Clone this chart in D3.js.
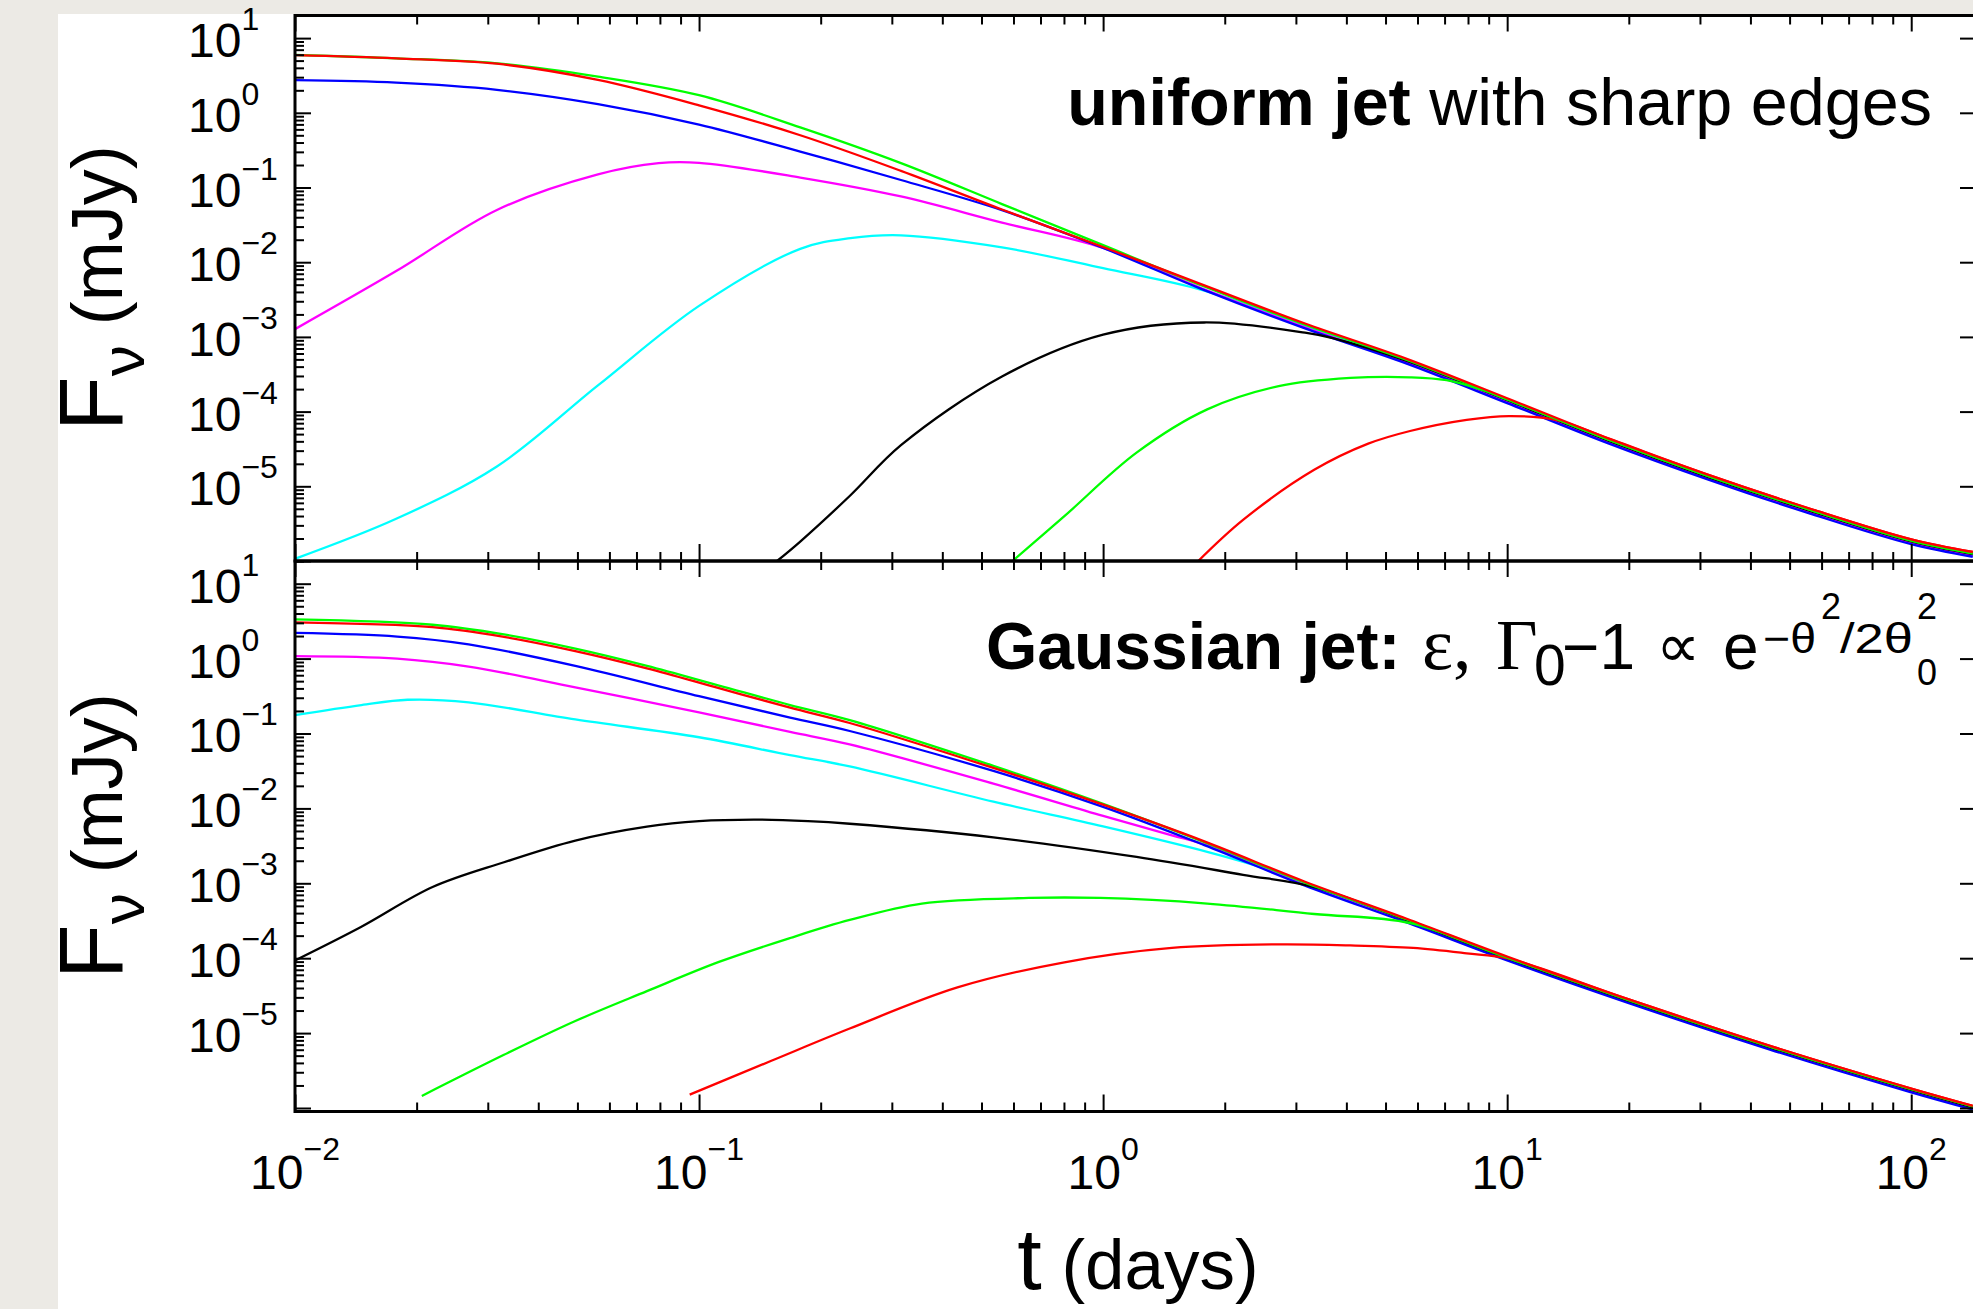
<!DOCTYPE html>
<html>
<head>
<meta charset="utf-8">
<script src="https://cdn.jsdelivr.net/npm/d3@7"></script>
<style>
  html, body { margin: 0; padding: 0; background: #eceae5; }
  svg { display: block; }
</style>
</head>
<body>
<script>
var W = 1973, H = 1309;

// tick labels (decades)
var xMajor = [0.01, 0.1, 1, 10, 100];
var xExp = ["\u22122", "\u22121", "0", "1", "2"];
var yMajor = [10, 1, 0.1, 0.01, 1e-3, 1e-4, 1e-5];
var yExp = ["1", "0", "\u22121", "\u22122", "\u22123", "\u22124", "\u22125"];

// upper panel: uniform jet with sharp edges, [t (days), F (mJy)]
var uRed1 = [[0.01,5.90],[0.0178,5.35],[0.0316,4.54],[0.0562,2.76],[0.1,1.26],[0.178,0.501],[0.316,0.167],[0.562,0.0507],[1,0.0160],[1.78,4.90e-3],[3.16,1.51e-3],[5.62,5.13e-4],[10,1.51e-4],[17.8,4.37e-5],[31.6,1.41e-5],[56.2,5.01e-6],[100,1.95e-6],[142,1.32e-6]];
var uGreen1 = [[0.01,5.96],[0.0178,5.37],[0.0316,4.59],[0.0562,3.05],[0.1,1.72],[0.178,0.638],[0.316,0.212],[0.562,0.060],[1,0.0169],[1.78,4.73e-3],[3.16,1.46e-3],[5.62,4.95e-4],[10,1.46e-4],[17.8,4.22e-5],[31.6,1.36e-5],[56.2,4.84e-6],[100,1.88e-6],[142,1.27e-6]];
var uBlue = [[0.01,2.73],[0.0178,2.53],[0.0316,2.03],[0.0562,1.31],[0.1,0.697],[0.178,0.303],[0.316,0.126],[0.562,0.0497],[1,0.0155],[1.78,4.22e-3],[3.16,1.30e-3],[5.62,4.42e-4],[10,1.30e-4],[17.8,3.76e-5],[31.6,1.22e-5],[56.2,4.31e-6],[100,1.68e-6],[142,1.14e-6]];
var uMagenta = [[0.01,1.27e-3],[0.0178,7.6e-3],[0.0316,0.050],[0.0562,0.150],[0.0794,0.212],[0.1,0.214],[0.178,0.136],[0.316,0.0759],[0.562,0.0339],[1,0.0155],[1.78,4.35e-3],[3.16,1.34e-3],[5.62,4.55e-4],[10,1.34e-4],[17.8,3.87e-5],[31.6,1.25e-5],[56.2,4.45e-6],[100,1.73e-6],[142,1.17e-6]];
var uCyan = [[0.01,1.07e-6],[0.0178,3.67e-6],[0.0316,1.84e-5],[0.0562,2.24e-4],[0.1,2.60e-3],[0.178,0.0151],[0.237,0.0210],[0.316,0.0229],[0.562,0.0158],[1,8.32e-3],[1.78,4.17e-3],[3.16,1.38e-3],[5.62,4.68e-4],[10,1.38e-4],[17.8,3.98e-5],[31.6,1.29e-5],[56.2,4.57e-6],[100,1.78e-6],[142,1.20e-6]];
var uBlack = [[0.156,1.0e-6],[0.178,1.82e-6],[0.237,7.59e-6],[0.316,3.55e-5],[0.562,2.95e-4],[1,1.07e-3],[1.78,1.56e-3],[3.16,1.14e-3],[3.70,9.64e-4],[5.62,4.81e-4],[10,1.42e-4],[17.8,4.09e-5],[31.6,1.32e-5],[56.2,4.70e-6],[100,1.83e-6],[142,1.24e-6]];
var uGreen2 = [[0.597,1.0e-6],[0.802,3.98e-6],[1.21,2.82e-5],[1.81,1.07e-4],[2.72,2.19e-4],[4.09,2.82e-4],[5.75,2.88e-4],[7.08,2.63e-4],[8.79,1.90e-4],[10,1.46e-4],[17.8,4.22e-5],[31.6,1.36e-5],[56.2,4.84e-6],[100,1.88e-6],[142,1.27e-6]];
var uRed2 = [[1.72,1.0e-6],[2.22,3.55e-6],[3.33,1.66e-5],[4.53,3.72e-5],[5.75,5.50e-5],[7.94,7.76e-5],[10.1,8.71e-5],[13.2,7.76e-5],[17.8,4.37e-5],[31.6,1.41e-5],[56.2,5.01e-6],[100,1.95e-6],[142,1.32e-6]];

// lower panel: Gaussian jet
var gRed1 = [[0.01,3.05],[0.0219,2.63],[0.0329,1.95],[0.0494,1.26],[0.0743,0.741],[0.112,0.403],[0.168,0.221],[0.236,0.138],[0.535,0.0347],[1,0.0112],[1.78,3.63e-3],[3.16,1.05e-3],[5.62,3.39e-4],[10,1.05e-4],[20,2.82e-5],[44.7,6.76e-6],[100,1.82e-6],[142,1.07e-6]];
var gGreen1 = [[0.01,3.33],[0.0219,2.83],[0.0329,2.10],[0.0494,1.36],[0.0743,0.80],[0.112,0.437],[0.168,0.240],[0.236,0.151],[0.535,0.0370],[1,0.0115],[1.78,3.55e-3],[3.16,1.02e-3],[5.62,3.31e-4],[10,1.02e-4],[20,2.75e-5],[44.7,6.61e-6],[100,1.78e-6],[142,1.05e-6]];
var gBlue = [[0.01,2.20],[0.0179,1.97],[0.0269,1.55],[0.0494,0.80],[0.1,0.315],[0.168,0.163],[0.236,0.108],[0.535,0.0316],[1,0.0105],[1.78,3.24e-3],[3.16,9.33e-4],[5.62,3.02e-4],[10,9.33e-5],[20,2.51e-5],[44.7,6.03e-6],[100,1.62e-6],[142,9.55e-7]];
var gMagenta = [[0.01,1.08],[0.0179,1.0],[0.0269,0.783],[0.0494,0.414],[0.1,0.192],[0.168,0.105],[0.236,0.0714],[0.535,0.0214],[1,7.94e-3],[1.48,4.37e-3],[1.78,3.31e-3],[3.16,9.55e-4],[5.62,3.09e-4],[10,9.55e-5],[20,2.57e-5],[44.7,6.17e-6],[100,1.66e-6],[142,9.77e-7]];
var gCyan = [[0.01,0.176],[0.0146,0.240],[0.019,0.282],[0.0269,0.261],[0.0494,0.154],[0.1,0.0891],[0.168,0.0514],[0.236,0.0363],[0.535,0.0123],[1,5.75e-3],[1.81,2.63e-3],[2.51,1.58e-3],[3.16,9.77e-4],[5.62,3.16e-4],[10,9.77e-5],[20,2.63e-5],[44.7,6.31e-6],[100,1.70e-6],[142,1.0e-6]];
var gBlack = [[0.01,9.33e-5],[0.0146,2.63e-4],[0.0219,8.91e-4],[0.0329,1.91e-3],[0.0494,3.72e-3],[0.0743,5.71e-3],[0.1,6.76e-3],[0.137,7.08e-3],[0.186,6.76e-3],[0.236,6.24e-3],[0.535,4.11e-3],[1.21,2.25e-3],[2.22,1.30e-3],[3.33,8.91e-4],[5.62,3.24e-4],[10,1.00e-4],[20,2.69e-5],[44.7,6.46e-6],[100,1.74e-6],[142,1.02e-6]];
var gGreen2 = [[0.0206,1.45e-6],[0.0329,5.13e-6],[0.0494,1.45e-5],[0.0743,3.63e-5],[0.112,8.91e-5],[0.168,1.86e-4],[0.236,3.24e-4],[0.356,5.37e-4],[0.655,6.37e-4],[0.984,6.37e-4],[1.81,5.37e-4],[3.33,3.89e-4],[5.75,2.95e-4],[10,1.02e-4],[20,2.75e-5],[44.7,6.61e-6],[100,1.78e-6],[142,1.05e-6]];
var gRed2 = [[0.0948,1.51e-6],[0.151,4.27e-6],[0.236,1.15e-5],[0.436,4.07e-5],[0.802,8.81e-5],[1.48,1.37e-4],[2.72,1.53e-4],[4.09,1.48e-4],[5.85,1.37e-4],[7.94,1.16e-4],[10.1,9.84e-5],[20,2.82e-5],[44.7,6.76e-6],[100,1.82e-6],[142,1.07e-6]];

var RED = "#ff0000", GREEN = "#00ff00", BLUE = "#0000ff", MAG = "#ff00ff", CYAN = "#00ffff", BLK = "#000000";

var uniformSeries = [
  {c: CYAN, d: uCyan}, {c: MAG, d: uMagenta}, {c: BLUE, d: uBlue},
  {c: BLK, d: uBlack}, {c: GREEN, d: uGreen2}, {c: RED, d: uRed2},
  {c: GREEN, d: uGreen1}, {c: RED, d: uRed1}
];
var gaussSeries = [
  {c: CYAN, d: gCyan}, {c: MAG, d: gMagenta}, {c: BLUE, d: gBlue},
  {c: BLK, d: gBlack}, {c: GREEN, d: gGreen2}, {c: RED, d: gRed2},
  {c: GREEN, d: gGreen1}, {c: RED, d: gRed1}
];

var SANS = "'Liberation Sans', Arial, Helvetica, sans-serif";
var SERIF = "'Liberation Serif', 'Times New Roman', serif";

var svg = d3.select("body").append("svg")
  .attr("width", W).attr("height", H);

// white page
svg.append("rect").attr("x", 58).attr("y", 14).attr("width", W - 58).attr("height", H - 14).attr("fill", "#ffffff");

var xL = 295, xR = 1973;
var x = d3.scaleLog().domain([0.01, 142.2]).range([xL, xR]);

var panels = [
  {y: d3.scaleLog().domain([1e-6, 19.95]).range([561, 15.7]), top: 15.5, bot: 561, series: uniformSeries, id: "clipU"},
  {y: d3.scaleLog().domain([8.98e-7, 20.4]).range([1111.5, 560.5]), top: 561, bot: 1111.5, series: gaussSeries, id: "clipG"}
];

function isDecade(v) {
  var l = Math.log10(v);
  return Math.abs(l - Math.round(l)) < 1e-6;
}

function tickAxis(g) {
  g.select(".domain").remove();
  g.selectAll(".tick line").attr("stroke", "#000").attr("stroke-width", 2);
  g.selectAll(".tick text").remove();
}

panels.forEach(function(p) {
  var y = p.y;
  var allY = y.ticks().filter(function(v) { return v >= y.domain()[0] && v <= y.domain()[1]; });
  var minorY = allY.filter(function(v) { return !isDecade(v); });
  var majorY = allY.filter(isDecade);
  var allX = x.ticks();
  var minorX = allX.filter(function(v) { return !isDecade(v); });
  var majorX = allX.filter(isDecade);

  svg.append("clipPath").attr("id", p.id).append("rect")
    .attr("x", xL).attr("y", p.top).attr("width", xR - xL).attr("height", p.bot - p.top);

  var line = d3.line()
    .x(function(d) { return x(d[0]); })
    .y(function(d) { return y(d[1]); })
    .curve(d3.curveCatmullRom.alpha(0.5));

  svg.append("g").attr("clip-path", "url(#" + p.id + ")")
    .selectAll("path").data(p.series).enter().append("path")
    .attr("d", function(s) { return line(s.d); })
    .attr("fill", "none")
    .attr("stroke", function(s) { return s.c; })
    .attr("stroke-width", 2.3)
    .attr("stroke-linejoin", "round");

  // left axis ticks (inward)
  svg.append("g").attr("transform", "translate(" + xL + ",0)")
    .call(d3.axisLeft(y).tickValues(minorY).tickSizeInner(-9).tickSizeOuter(0)).call(tickAxis);
  svg.append("g").attr("transform", "translate(" + xL + ",0)")
    .call(d3.axisLeft(y).tickValues(majorY).tickSizeInner(-16).tickSizeOuter(0)).call(tickAxis);
  // right axis ticks
  svg.append("g").attr("transform", "translate(" + xR + ",0)")
    .call(d3.axisRight(y).tickValues(majorY).tickSizeInner(-13).tickSizeOuter(0)).call(tickAxis);
  // top and bottom ticks
  svg.append("g").attr("transform", "translate(0," + p.top + ")")
    .call(d3.axisTop(x).tickValues(minorX).tickSizeInner(-9).tickSizeOuter(0)).call(tickAxis);
  svg.append("g").attr("transform", "translate(0," + p.top + ")")
    .call(d3.axisTop(x).tickValues(majorX).tickSizeInner(-16).tickSizeOuter(0)).call(tickAxis);
  svg.append("g").attr("transform", "translate(0," + p.bot + ")")
    .call(d3.axisBottom(x).tickValues(minorX).tickSizeInner(-9).tickSizeOuter(0)).call(tickAxis);
  svg.append("g").attr("transform", "translate(0," + p.bot + ")")
    .call(d3.axisBottom(x).tickValues(majorX).tickSizeInner(-17).tickSizeOuter(0)).call(tickAxis);

  // frame
  svg.append("rect").attr("x", xL).attr("y", p.top).attr("width", xR - xL + 10).attr("height", p.bot - p.top)
    .attr("fill", "none").attr("stroke", "#000").attr("stroke-width", 3);

  // y tick labels 10^n
  var lab = svg.append("g").attr("font-family", SANS).attr("fill", "#000");
  yMajor.forEach(function(v, i) {
    var t = lab.append("text").attr("x", 188).attr("y", y(v) + 19).attr("font-size", 48);
    t.append("tspan").text("10");
    t.append("tspan").attr("font-size", 32).attr("dy", -27).text(yExp[i]);
  });

  // y title
  var cy = (p.top + p.bot) / 2;
  var yt = svg.append("text").attr("transform", "translate(122," + cy + ") rotate(-90)")
    .attr("text-anchor", "middle").attr("font-family", SANS).attr("fill", "#000");
  yt.append("tspan").attr("font-size", 90).text("F");
  yt.append("tspan").attr("font-size", 62).attr("dy", 22).text("\u03bd");
  yt.append("tspan").attr("font-size", 72).attr("dy", -22).text(" (mJy)");
});

// x tick labels on the bottom panel
var xl = svg.append("g").attr("font-family", SANS).attr("fill", "#000");
xMajor.forEach(function(v, i) {
  var t = xl.append("text").attr("x", x(v)).attr("y", 1189).attr("text-anchor", "middle").attr("font-size", 48);
  t.append("tspan").text("10");
  t.append("tspan").attr("font-size", 32).attr("dy", -29).text(xExp[i]);
});

// x title
var xt = svg.append("text").attr("x", 1138).attr("y", 1289).attr("text-anchor", "middle")
  .attr("font-family", SANS).attr("fill", "#000");
xt.append("tspan").attr("font-size", 88).text("t");
xt.append("tspan").attr("font-size", 71).text(" (days)");

// panel titles
var t1 = svg.append("text").attr("x", 1932).attr("y", 125).attr("text-anchor", "end")
  .attr("font-family", SANS).attr("font-size", 66.5).attr("fill", "#000");
t1.append("tspan").attr("font-weight", "bold").text("uniform jet");
t1.append("tspan").text(" with sharp edges");

var t2 = svg.append("g").attr("font-family", SANS).attr("fill", "#000");
t2.append("text").attr("x", 986).attr("y", 669).attr("font-size", 66).attr("font-weight", "bold").text("Gaussian jet:");
t2.append("text").attr("x", 1422).attr("y", 669).attr("font-size", 74).attr("font-family", SERIF).text("\u03b5,");
t2.append("text").attr("x", 1496).attr("y", 669).attr("font-size", 72).attr("font-family", SERIF).text("\u0393");
t2.append("text").attr("x", 1534).attr("y", 685).attr("font-size", 57).text("0");
t2.append("text").attr("x", 1562).attr("y", 669).attr("font-size", 64).text("\u22121");
t2.append("text").attr("x", 1656).attr("y", 667).attr("font-size", 62).attr("font-family", "'DejaVu Sans', sans-serif").text("\u221d");
t2.append("text").attr("x", 1723).attr("y", 669).attr("font-size", 64).text("e");
t2.append("text").attr("x", 1763).attr("y", 653).attr("font-size", 42).attr("textLength", 53).attr("lengthAdjust", "spacingAndGlyphs").text("\u2212\u03b8");
t2.append("text").attr("x", 1821).attr("y", 619).attr("font-size", 36).text("2");
t2.append("text").attr("x", 1840).attr("y", 653).attr("font-size", 42).attr("textLength", 73).attr("lengthAdjust", "spacingAndGlyphs").text("/2\u03b8");
t2.append("text").attr("x", 1917).attr("y", 619).attr("font-size", 36).text("2");
t2.append("text").attr("x", 1917).attr("y", 685).attr("font-size", 36).text("0");
</script>
</body>
</html>
